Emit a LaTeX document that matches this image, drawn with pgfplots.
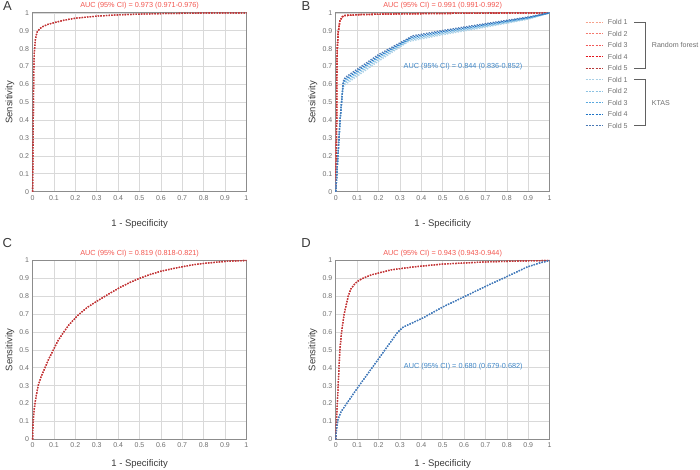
\documentclass[border=0pt]{standalone}
\usepackage{pgfplots}
\pgfplotsset{compat=1.18}
\usepackage{fontspec}
\setmainfont{Liberation Sans}
\definecolor{rfa}{HTML}{F6A28C}
\definecolor{rfb}{HTML}{F47A6E}
\definecolor{rfc}{HTML}{F25A5A}
\definecolor{rfd}{HTML}{E3141C}
\definecolor{rfe}{HTML}{B83A3A}
\definecolor{kta}{HTML}{A9D0E6}
\definecolor{ktb}{HTML}{8DC3E3}
\definecolor{ktc}{HTML}{5AA9DF}
\definecolor{ktd}{HTML}{1E74C6}
\definecolor{kte}{HTML}{4A79B5}
\definecolor{titred}{HTML}{F2564F}
\definecolor{labblue}{HTML}{3D85C6}
\definecolor{gridc}{HTML}{D9D9D9}
\definecolor{axc}{HTML}{8C8C8C}
\definecolor{tickc}{HTML}{6E6E6E}
\definecolor{labc}{HTML}{3A3A3A}
\pgfplotsset{
  rocax/.style={scale only axis, width=213.8pt, height=178.8pt, anchor=south west,
    xmin=0,xmax=1,ymin=0,ymax=1,
    xtick={0,0.1,0.2,0.3,0.4,0.5,0.6,0.7,0.8,0.9,1},
    ytick={0,0.1,0.2,0.3,0.4,0.5,0.6,0.7,0.8,0.9,1},
    xticklabels={0,0.1,0.2,0.3,0.4,0.5,0.6,0.7,0.8,0.9,1},
    yticklabels={0,0.1,0.2,0.3,0.4,0.5,0.6,0.7,0.8,0.9,1},
    grid=major, major grid style={color=gridc, line width=0.7pt},
    axis line style={color=axc, line width=1pt},
    tick style={draw=none},
    ticklabel style={font=\fontsize{7}{8}\selectfont, text=tickc},
    /pgf/number format/assume math mode=true,
    clip=false},
  dd/.style={line width=1.3pt, dash pattern=on 1.4pt off 1.3pt},
}
\pgfplotstableread{
x y
0 0
0.002 0.2
0.004 0.5
0.006 0.7
0.008 0.78
0.01 0.81
0.013 0.85
0.017 0.875
0.022 0.895
0.035 0.913
0.05 0.925
0.07 0.935
0.1 0.945
0.15 0.96
0.2 0.97
0.3 0.982
0.4 0.989
0.5 0.993
0.6 0.996
0.8 0.999
1 1
}\rfA
\pgfplotstableread{
x y
0 0
0.004 0.4
0.005 0.7
0.007 0.8
0.011 0.89
0.019 0.955
0.03 0.978
0.042 0.985
0.1 0.99
0.3 0.995
0.6 0.998
1 1
}\rfB
\pgfplotstableread{
x y
0 0
0.001 0.05
0.003 0.1
0.006 0.15
0.011 0.2
0.018 0.25
0.026 0.3
0.04 0.35
0.058 0.4
0.076 0.45
0.097 0.5
0.118 0.55
0.14 0.59
0.17 0.64
0.213 0.695
0.255 0.737
0.3 0.772
0.355 0.812
0.41 0.85
0.455 0.877
0.5 0.9
0.55 0.922
0.6 0.94
0.65 0.953
0.7 0.965
0.75 0.976
0.81 0.985
0.9 0.995
1 1
}\rfC
\pgfplotstableread{
x y
0 0
0.003 0.1
0.011 0.3
0.019 0.5
0.027 0.6
0.039 0.7
0.058 0.8
0.07 0.84
0.086 0.865
0.098 0.88
0.11 0.89
0.13 0.902
0.167 0.92
0.26 0.948
0.37 0.965
0.5 0.98
0.7 0.992
0.9 0.998
1 1
}\rfD
\pgfplotstableread{
x y
0 0
0.004 0.06
0.01 0.11
0.025 0.155
0.1 0.285
0.2 0.45
0.29 0.6
0.316 0.628
0.41 0.68
0.5 0.74
0.6 0.797
0.7 0.855
0.8 0.91
0.894 0.963
0.95 0.985
1 1
}\ktD
\begin{document}
\begin{tikzpicture}
\useasboundingbox (0,0) rectangle (700pt,470pt);
% ---------------- A
\begin{axis}[rocax, at={(32.6pt,278.3pt)}]
\addplot[dd, rfd, no marks] table {\rfA};
\addplot[dd, rfe, no marks] table {\rfA};
\end{axis}
% ---------------- B
\begin{axis}[rocax, at={(335.8pt,278.3pt)}]
\addplot[dd, rfa, no marks] table {\rfB};
\addplot[dd, rfb, no marks] table {\rfB};
\addplot[dd, rfc, no marks] table {\rfB};
\addplot[dd, rfd, no marks] table {\rfB};
\addplot[dd, rfe, no marks] table {\rfB};
\addplot[dd, kta, no marks] table {
0 0
0.01 0.2
0.02 0.4
0.033 0.585
0.045 0.6
0.2 0.73
0.34 0.84
0.5 0.878
0.7 0.92
0.9 0.965
1 1
};
\addplot[dd, ktb, no marks] table {
0 0
0.01 0.2
0.02 0.4
0.033 0.595
0.045 0.61
0.2 0.74
0.345 0.848
0.5 0.884
0.7 0.925
0.9 0.968
1 1
};
\addplot[dd, ktc, no marks] table {
0 0
0.01 0.2
0.02 0.4
0.034 0.605
0.045 0.62
0.2 0.75
0.35 0.856
0.5 0.89
0.7 0.93
0.9 0.971
1 1
};
\addplot[dd, ktd, no marks] table {
0 0
0.01 0.2
0.02 0.4
0.035 0.615
0.045 0.63
0.2 0.758
0.355 0.864
0.5 0.896
0.7 0.935
0.9 0.974
1 1
};
\addplot[dd, kte, no marks] table {
0 0
0.01 0.2
0.02 0.4
0.036 0.625
0.045 0.64
0.2 0.767
0.36 0.872
0.5 0.902
0.7 0.94
0.9 0.977
1 1
};
\end{axis}
% ---------------- C
\begin{axis}[rocax, at={(32.6pt,30.7pt)}]
\addplot[dd, rfd, no marks] table {\rfC};
\addplot[dd, rfe, no marks] table {\rfC};
\end{axis}
% ---------------- D
\begin{axis}[rocax, at={(335.8pt,30.7pt)}]
\addplot[dd, rfd, no marks] table {\rfD};
\addplot[dd, rfe, no marks] table {\rfD};
\addplot[dd, ktd, no marks] table {\ktD};
\addplot[dd, kte, no marks] table {\ktD};
\end{axis}
% ---------------- texts
\tikzset{ttl/.style={font=\fontsize{7.3}{8}\selectfont, text=titred, inner sep=0pt},
  bl/.style={font=\fontsize{7.3}{8}\selectfont, text=labblue, inner sep=0pt},
  xl/.style={font=\fontsize{9.5}{11}\selectfont, text=labc, inner sep=0pt},
  lt/.style={font=\fontsize{13}{14}\selectfont, text=labc, inner sep=0pt},
  lg/.style={font=\fontsize{7.1}{8}\selectfont, text=tickc, inner sep=0pt, anchor=west}}
\node[ttl] at (139.6pt,464.5pt) {AUC (95\% CI) = 0.973 (0.971-0.976)};
\node[ttl] at (442.6pt,464.5pt) {AUC (95\% CI) = 0.991 (0.991-0.992)};
\node[ttl] at (139.6pt,216.7pt) {AUC (95\% CI) = 0.819 (0.818-0.821)};
\node[ttl] at (442.6pt,216.7pt) {AUC (95\% CI) = 0.943 (0.943-0.944)};
\node[bl] at (463pt,403.3pt) {AUC (95\% CI) = 0.844 (0.836-0.852)};
\node[bl] at (463.3pt,103pt) {AUC (95\% CI) = 0.680 (0.679-0.682)};
\node[xl] at (139.6pt,246pt) {1 - Specificity};
\node[xl] at (442.6pt,246pt) {1 - Specificity};
\node[xl] at (139.6pt,5.5pt) {1 - Specificity};
\node[xl] at (442.6pt,5.5pt) {1 - Specificity};
\node[xl, rotate=90] at (10pt,367.7pt) {Sensitivity};
\node[xl, rotate=90] at (313pt,367.7pt) {Sensitivity};
\node[xl, rotate=90] at (10pt,120.3pt) {Sensitivity};
\node[xl, rotate=90] at (313pt,120.3pt) {Sensitivity};
\node[lt] at (7.5pt,464pt) {A};
\node[lt] at (306pt,464pt) {B};
\node[lt] at (7.3pt,227pt) {C};
\node[lt] at (306pt,227pt) {D};
% legend
\foreach \c/\y/\l in {rfa/447.7/1, rfb/436.2/2, rfc/424.7/3, rfd/413.2/4, rfe/401.7/5, kta/390.2/1, ktb/378.7/2, ktc/367.2/3, ktd/355.7/4, kte/344.2/5}{
  \draw[\c, line width=1.2pt, dash pattern=on 2pt off 1.3pt] (585.7pt,\y pt) -- (602.3pt,\y pt);
  \node[lg] at (607.7pt,\y pt) {Fold \l};
}
\draw[color=labc!80, line width=0.8pt] (634.3pt,447.7pt) -- (645.3pt,447.7pt) -- (645.3pt,401.7pt) -- (634.3pt,401.7pt);
\draw[color=labc!80, line width=0.8pt] (634.3pt,390.2pt) -- (645.3pt,390.2pt) -- (645.3pt,344.2pt) -- (634.3pt,344.2pt);
\node[lg] at (651.7pt,424.7pt) {Random forest};
\node[lg] at (651.7pt,367.2pt) {KTAS};
\end{tikzpicture}
\end{document}
